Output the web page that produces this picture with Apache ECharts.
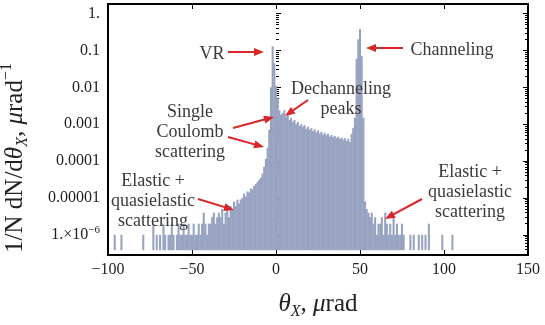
<!DOCTYPE html>
<html><head><meta charset="utf-8">
<script src="https://cdn.jsdelivr.net/npm/echarts@6/dist/echarts.min.js"></script>
<style>html,body{margin:0;padding:0;background:#fff}#c{width:545px;height:325px}</style>
</head><body><div id="c"></div>
<script>
// ---- data: histogram of deflection angle theta_X (1 µrad bins) ----
const thetaFirst = -100;   // centre of first bin, µrad
const binWidth = 1;        // µrad
const density = [
  0,0,0,0,1e-6,0,0,0,1e-6,0,                                   // -100..-91
  0,0,0,0,0,0,0,0,0,0,                                         // -90..-81
  0,1e-6,0,0,0,0,0,2e-6,0,1e-6,                                // -80..-71
  0,1e-6,0,2e-6,1e-6,0,1e-6,1e-6,2e-6,1e-6,                    // -70..-61
  0,1e-6,2e-6,1e-6,1e-6,2e-6,1e-6,1e-6,2e-6,1e-6,              // -60..-51
  1e-6,2e-6,1e-6,1e-6,2e-6,1e-6,2e-6,4e-6,2e-6,1e-6,           // -50..-41
  2e-6,2e-6,3e-6,4e-6,2e-6,3e-6,4e-6,3e-6,5e-6,2e-6,           // -40..-31
  4e-6,5e-6,3e-6,6e-6,5e-6,8e-6,6e-6,9e-6,7e-6,9e-6,           // -30..-21
  1.0e-5,1.3e-5,1.1e-5,1.5e-5,1.4e-5,1.8e-5,1.7e-5,2.1e-5,2.4e-5,2.7e-5, // -20..-11
  3.1e-5,3.6e-5,4.6e-5,7e-5,1.15e-4,2.3e-4,7e-4,1.0e-2,0.13,0.045,       // -10..-1
  0.011,5e-3,2.4e-3,1.8e-3,2.0e-3,2.4e-3,1.6e-3,1.9e-3,1.3e-3,1.5e-3,    // 0..9
  1.15e-3,1.3e-3,1.0e-3,1.15e-3,9e-4,1.0e-3,8.5e-4,9.5e-4,7.5e-4,8.5e-4, // 10..19
  7e-4,7.8e-4,6.5e-4,7.2e-4,6e-4,6.8e-4,5.6e-4,6.2e-4,5.2e-4,5.8e-4,     // 20..29
  5e-4,5.5e-4,4.6e-4,5.1e-4,4.4e-4,4.8e-4,4.2e-4,4.6e-4,4.0e-4,4.3e-4,   // 30..39
  3.8e-4,4.2e-4,3.5e-4,4.0e-4,3.3e-4,5.5e-4,8e-4,1.5e-3,0.06,0.2,        // 40..49
  0.38,0.07,1.5e-3,8e-6,5e-6,4e-6,3e-6,4e-6,2e-6,3e-6,                   // 50..59
  1e-6,2e-6,2e-6,3e-6,1e-6,4e-6,2e-6,1e-6,2e-6,1e-6,                     // 60..69
  3e-6,1e-6,2e-6,1e-6,1e-6,2e-6,1e-6,0,0,0,                              // 70..79
  1e-6,0,1e-6,0,0,1e-6,0,1e-6,0,1e-6,                                    // 80..89
  0,2e-6,0,0,0,0,0,0,0,1e-6,                                             // 90..99
  0,0,0,0,0,1e-6                                                         // 100..105
];
const xTickValues = [-100, -50, 0, 50, 100, 150];
const yTickLabels = {'0':'1.', '-1':'0.1', '-2':'0.01', '-3':'0.001', '-4':'0.0001', '-5':'0.00001', '-6':'{a|1.×10}{s|−6}'};

// ---- styling ----
const barColor = '#97a3c1';
const arrowColor = '#d8262a';
const serif = '"Liberation Serif", "DejaVu Serif", serif';
const yMin = 2.83e-7, yMax = 1.82, barBase = 3.82e-7;

const points = [];
density.forEach((v, i) => { if (v > 0) points.push([thetaFirst + i * binWidth, v]); });

const minorTicks = [];
for (let e = -7; e <= 0; e++) for (let k = 2; k <= 9; k++) {
  const v = k * Math.pow(10, e);
  if (v > yMin && v < yMax) minorTicks.push(v);
}

function yLabel(v) {
  const l = Math.log10(v), e = Math.round(l);
  if (Math.abs(l - e) > 1e-6) return '';
  return yTickLabels[String(e)] || '';
}

const chart = echarts.init(document.getElementById('c'), null, {renderer: 'canvas'});
const hideLine = {show: false};
chart.setOption({
  animation: false,
  backgroundColor: '#fff',
  grid: {left: 108, right: 17, top: 4, bottom: 60, show: true, borderColor: '#000', borderWidth: 2, backgroundColor: 'transparent'},
  xAxis: [{
    type: 'value', min: -100, max: 150, interval: 50, position: 'bottom',
    axisLine: hideLine, splitLine: {show: false},
    axisTick: {inside: true, length: 5, lineStyle: {color: '#000', width: 1}},
    axisLabel: {margin: 7, fontFamily: serif, fontSize: 16, color: '#222',
      formatter: v => v < 0 ? '−' + Math.abs(v) : String(v)},
    name: '{i|θ}{sub|X}{n|, }{i|μ}{n|rad}', nameLocation: 'middle', nameGap: 33,
    nameTextStyle: {rich: {
      n: {fontFamily: serif, fontSize: 25, color: '#222', lineHeight: 32},
      i: {fontFamily: serif, fontSize: 25, fontStyle: 'italic', color: '#222', lineHeight: 32},
      sub: {fontFamily: serif, fontSize: 16, fontStyle: 'italic', color: '#222', lineHeight: 16, verticalAlign: 'bottom'}
    }}
  }, {
    type: 'value', min: -100, max: 150, interval: 50, position: 'top',
    axisLine: hideLine, splitLine: {show: false}, axisLabel: {show: false},
    axisTick: {inside: true, length: 5, lineStyle: {color: '#000', width: 1}}
  }],
  yAxis: [{
    type: 'log', logBase: 10, min: yMin, max: yMax, position: 'left',
    axisLine: hideLine, splitLine: {show: false},
    axisTick: {inside: true, length: 5, lineStyle: {color: '#000', width: 1}},
    axisLabel: {margin: 8, fontFamily: serif, fontSize: 16, color: '#222', formatter: yLabel,
      rich: {
        a: {fontFamily: serif, fontSize: 16, color: '#222', lineHeight: 20},
        s: {fontFamily: serif, fontSize: 11, color: '#222', lineHeight: 12, verticalAlign: 'top'}
      }}
  }, {
    type: 'log', logBase: 10, min: yMin, max: yMax, position: 'left',
    axisLine: hideLine, splitLine: {show: false}, axisLabel: {show: false},
    axisTick: {inside: true, length: 3, customValues: minorTicks, lineStyle: {color: '#000', width: 1}}
  }, {
    type: 'log', logBase: 10, min: yMin, max: yMax, position: 'right',
    axisLine: hideLine, splitLine: {show: false}, axisLabel: {show: false},
    axisTick: {inside: true, length: 5, lineStyle: {color: '#000', width: 1}}
  }, {
    type: 'log', logBase: 10, min: yMin, max: yMax, position: 'right',
    axisLine: hideLine, splitLine: {show: false}, axisLabel: {show: false},
    axisTick: {inside: true, length: 3, customValues: minorTicks, lineStyle: {color: '#000', width: 1}}
  }],
  series: [{
    type: 'custom', xAxisIndex: 0, yAxisIndex: 0, clip: true,
    data: points, encode: {x: 0, y: 1},
    renderItem: function (params, api) {
      const x = api.value(0), v = api.value(1);
      const p1 = api.coord([x - binWidth / 2, v]);
      const p2 = api.coord([x + binWidth / 2, barBase]);
      return {type: 'rect', shape: {x: p1[0] - 0.2, y: p1[1], width: p2[0] - p1[0] + 0.4, height: p2[1] - p1[1]},
        style: {fill: barColor}};
    }
  }]
});

// ---- annotations ----
function arrow(x1, y1, x2, y2) {
  const dx = x2 - x1, dy = y2 - y1, L = Math.hypot(dx, dy), ux = dx / L, uy = dy / L;
  const hl = 10, hw = 4;
  const bx = x2 - ux * hl, by = y2 - uy * hl;
  return [
    {type: 'line', z: 100, shape: {x1: x1, y1: y1, x2: bx + ux * 2, y2: by + uy * 2}, style: {stroke: arrowColor, lineWidth: 2}},
    {type: 'polygon', z: 100, shape: {points: [[x2, y2], [bx - uy * hw, by + ux * hw], [bx + uy * hw, by - ux * hw]]}, style: {fill: arrowColor}}
  ];
}
function label(x, y, text) {
  return {type: 'text', x: x, y: y, z: 100, style: {text: text, fontFamily: serif, fontSize: 18, fill: '#3a3a3a',
    align: 'center', verticalAlign: 'middle', textAlign: 'center', textVerticalAlign: 'middle', lineHeight: 20}};
}
const elements = [].concat(
  arrow(228, 52, 264, 52),
  arrow(403, 48, 366, 48),
  arrow(308, 100, 285, 116),
  arrow(233, 128, 274, 117),
  arrow(228, 137, 264, 147),
  arrow(198, 199, 234, 210),
  arrow(422, 199, 385, 219),
  [
    label(212, 54, 'VR'),
    label(452, 50, 'Channeling'),
    label(341, 99, 'Dechanneling\npeaks'),
    label(190, 132, 'Single\nCoulomb\nscattering'),
    label(153, 201, 'Elastic +\nquasielastic\nscattering'),
    label(470, 192, 'Elastic +\nquasielastic\nscattering'),
    {type: 'text', x: 15, y: 158, rotation: Math.PI / 2, z: 100, style: {
      text: '{n|1/N dN/d}{i|θ}{sub|X}{n|, }{i|μ}{n|rad}{sup|−1}',
      align: 'center', verticalAlign: 'middle', textAlign: 'center', textVerticalAlign: 'middle',
      rich: {
        n: {fontFamily: serif, fontSize: 25, fill: '#222', lineHeight: 32},
        i: {fontFamily: serif, fontSize: 25, fontStyle: 'italic', fill: '#222', lineHeight: 32},
        sub: {fontFamily: serif, fontSize: 16, fontStyle: 'italic', fill: '#222', lineHeight: 16, verticalAlign: 'bottom'},
        sup: {fontFamily: serif, fontSize: 16, fill: '#222', lineHeight: 22, verticalAlign: 'top'}
      }}}
  ]
);
chart.setOption({graphic: {elements: elements}});
</script>
</body></html>
